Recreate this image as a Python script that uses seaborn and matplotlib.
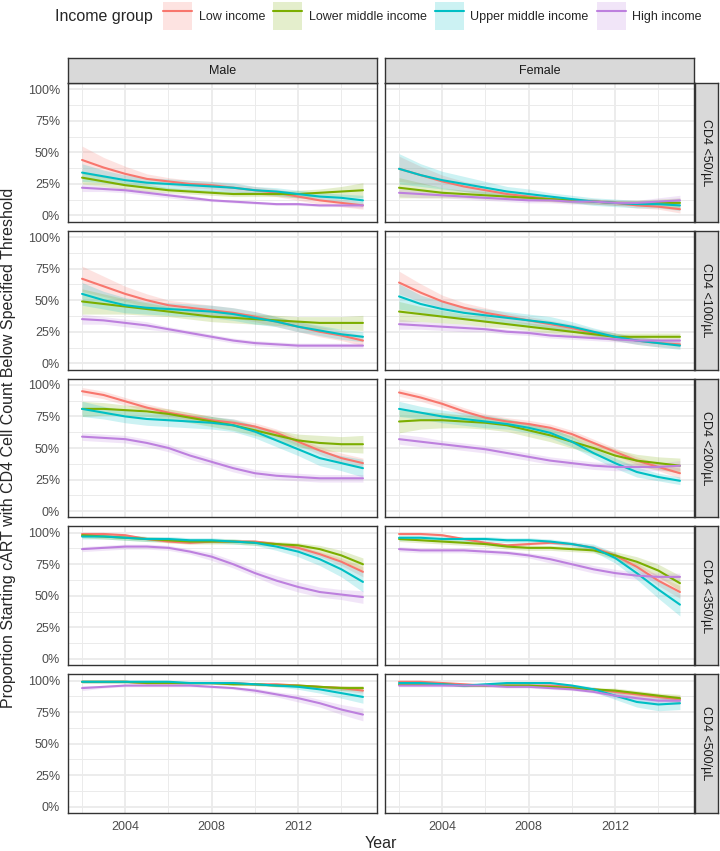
import numpy as np
import pandas as pd
import matplotlib
matplotlib.use("Agg")
import matplotlib.pyplot as plt
import seaborn as sns
from matplotlib.patches import Patch
from matplotlib.lines import Line2D

years = list(range(2002, 2016))
groups = ["Low income", "Lower middle income", "Upper middle income", "High income"]
colors = ["#F8766D", "#7CAE00", "#00BFC4", "#BD80DE"]
sexes = ["Male", "Female"]
thresholds = ["CD4 <50/µL", "CD4 <100/µL", "CD4 <200/µL", "CD4 <350/µL", "CD4 <500/µL"]

# fitted proportion (%) per year
male_50 = {
    "Low income": [44, 38, 33, 29, 27, 25, 24, 22, 20, 18, 15, 12, 10, 8],
    "Lower middle income": [30, 27, 24, 22, 20, 19, 18, 17, 17, 17, 17, 18, 19, 20],
    "Upper middle income": [34, 31, 28, 26, 25, 24, 23, 22, 20, 19, 17, 15, 14, 12],
    "High income": [22, 21, 20, 18, 16, 14, 12, 11, 10, 9, 9, 8, 8, 8],
}
female_50 = {
    "Low income": [37, 32, 27, 23, 20, 17, 15, 13, 12, 11, 10, 8, 7, 5],
    "Lower middle income": [22, 20, 18, 17, 16, 15, 14, 13, 12, 11, 10, 10, 10, 10],
    "Upper middle income": [37, 32, 28, 25, 22, 19, 17, 15, 13, 11, 10, 9, 9, 8],
    "High income": [18, 17, 16, 15, 14, 13, 12, 12, 11, 11, 10, 10, 11, 12],
}
male_100 = {
    "Low income": [67, 61, 55, 50, 46, 44, 42, 40, 37, 33, 29, 25, 22, 18],
    "Lower middle income": [49, 47, 45, 43, 41, 39, 37, 36, 35, 34, 33, 32, 32, 32],
    "Upper middle income": [55, 50, 46, 44, 43, 42, 41, 39, 36, 33, 29, 26, 23, 21],
    "High income": [35, 34, 32, 30, 27, 24, 21, 18, 16, 15, 14, 14, 14, 14],
}
female_100 = {
    "Low income": [64, 56, 49, 44, 40, 37, 34, 31, 28, 24, 21, 18, 16, 15],
    "Lower middle income": [41, 39, 37, 35, 33, 31, 29, 27, 25, 23, 21, 21, 21, 21],
    "Upper middle income": [53, 47, 43, 40, 38, 36, 34, 32, 29, 25, 21, 18, 16, 14],
    "High income": [31, 30, 29, 28, 27, 25, 24, 22, 21, 20, 19, 18, 18, 18],
}
male_200 = {
    "Low income": [95, 92, 87, 82, 78, 75, 72, 70, 67, 62, 55, 48, 42, 38],
    "Lower middle income": [81, 81, 80, 79, 77, 74, 71, 68, 64, 60, 56, 54, 53, 53],
    "Upper middle income": [81, 78, 75, 73, 72, 71, 70, 68, 63, 56, 49, 42, 38, 34],
    "High income": [59, 58, 57, 54, 50, 44, 39, 34, 30, 28, 27, 26, 26, 26],
}
female_200 = {
    "Low income": [94, 90, 85, 79, 74, 71, 69, 66, 61, 54, 47, 40, 35, 30],
    "Lower middle income": [71, 72, 72, 71, 70, 68, 64, 60, 55, 50, 44, 40, 38, 36],
    "Upper middle income": [81, 78, 75, 73, 71, 69, 66, 62, 55, 46, 38, 31, 27, 24],
    "High income": [57, 55, 53, 51, 49, 46, 43, 40, 38, 36, 35, 35, 35, 36],
}
male_350 = {
    "Low income": [99, 99, 98, 95, 93, 92, 93, 93, 93, 91, 88, 83, 77, 69],
    "Lower middle income": [98, 97, 96, 95, 94, 93, 93, 93, 92, 91, 90, 87, 82, 75],
    "Upper middle income": [97, 97, 96, 95, 95, 94, 94, 93, 92, 89, 85, 79, 71, 61],
    "High income": [87, 88, 89, 89, 88, 85, 81, 75, 68, 62, 57, 53, 51, 49],
}
female_350 = {
    "Low income": [99, 99, 98, 95, 92, 90, 91, 92, 91, 88, 82, 73, 62, 53],
    "Lower middle income": [95, 94, 93, 92, 91, 89, 88, 88, 87, 86, 82, 77, 70, 60],
    "Upper middle income": [96, 96, 95, 95, 95, 94, 94, 93, 91, 88, 80, 68, 55, 43],
    "High income": [87, 86, 86, 86, 85, 84, 82, 79, 75, 71, 68, 66, 65, 65],
}
male_500 = {
    "Low income": [99, 99, 99, 98, 98, 98, 98, 98, 97, 97, 96, 95, 94, 92],
    "Lower middle income": [99, 99, 99, 98, 98, 98, 98, 97, 97, 96, 96, 95, 94, 94],
    "Upper middle income": [99, 99, 99, 99, 99, 98, 98, 98, 97, 96, 95, 93, 90, 87],
    "High income": [94, 95, 96, 96, 96, 96, 95, 94, 92, 89, 86, 82, 77, 73],
}
female_500 = {
    "Low income": [99, 99, 98, 97, 96, 96, 96, 96, 95, 93, 91, 89, 87, 85],
    "Lower middle income": [97, 97, 97, 96, 96, 96, 96, 95, 94, 93, 92, 90, 88, 86],
    "Upper middle income": [98, 98, 97, 96, 97, 98, 98, 98, 96, 93, 88, 83, 81, 82],
    "High income": [96, 96, 96, 96, 96, 95, 95, 94, 93, 91, 88, 86, 84, 84],
}

# half width of the confidence band (%) per year
male_50_ci = {
    "Low income": [11, 8, 6, 4, 3, 3, 3, 3, 3, 3, 3, 3, 3, 3],
    "Lower middle income": [5, 4, 3, 3, 2, 2, 2, 2, 2, 2, 3, 3, 4, 6],
    "Upper middle income": [7, 5, 4, 4, 4, 4, 4, 4, 3, 3, 3, 3, 3, 4],
    "High income": [3, 2, 2, 2, 2, 2, 1, 1, 1, 1, 1, 1, 1, 2],
}
female_50_ci = {
    "Low income": [10, 7, 5, 4, 3, 3, 3, 2, 2, 2, 2, 2, 2, 3],
    "Lower middle income": [8, 6, 4, 3, 3, 2, 2, 2, 2, 2, 2, 2, 3, 4],
    "Upper middle income": [12, 9, 7, 6, 5, 4, 4, 3, 3, 3, 3, 3, 3, 4],
    "High income": [3, 3, 2, 2, 2, 2, 2, 2, 2, 2, 2, 2, 3, 4],
}
male_100_ci = {
    "Low income": [10, 8, 6, 5, 4, 4, 4, 4, 4, 4, 4, 4, 4, 4],
    "Lower middle income": [10, 8, 6, 5, 4, 4, 4, 4, 4, 4, 4, 5, 5, 6],
    "Upper middle income": [9, 7, 6, 5, 5, 5, 5, 5, 5, 4, 4, 4, 4, 4],
    "High income": [4, 3, 3, 3, 2, 2, 2, 2, 2, 2, 2, 2, 2, 2],
}
female_100_ci = {
    "Low income": [9, 7, 5, 4, 4, 3, 3, 3, 3, 3, 3, 3, 3, 3],
    "Lower middle income": [8, 6, 5, 4, 4, 3, 3, 3, 3, 3, 3, 3, 3, 3],
    "Upper middle income": [10, 7, 6, 5, 5, 5, 5, 5, 4, 3, 3, 3, 3, 3],
    "High income": [4, 3, 3, 3, 2, 2, 2, 2, 2, 2, 2, 2, 2, 2],
}
male_200_ci = {
    "Low income": [3, 3, 3, 3, 3, 3, 3, 3, 3, 3, 3, 3, 4, 4],
    "Lower middle income": [6, 5, 4, 4, 4, 4, 4, 4, 4, 4, 5, 6, 6, 7],
    "Upper middle income": [6, 5, 5, 5, 5, 5, 5, 5, 5, 5, 5, 6, 6, 7],
    "High income": [3, 3, 3, 3, 3, 3, 3, 3, 3, 3, 3, 3, 3, 3],
}
female_200_ci = {
    "Low income": [3, 3, 3, 3, 3, 3, 3, 3, 3, 3, 3, 3, 3, 4],
    "Lower middle income": [9, 7, 6, 5, 5, 5, 5, 5, 5, 5, 5, 5, 5, 6],
    "Upper middle income": [6, 5, 5, 5, 5, 4, 4, 4, 4, 4, 4, 4, 3, 3],
    "High income": [4, 4, 3, 3, 3, 3, 3, 3, 3, 3, 3, 3, 3, 4],
}
male_350_ci = {
    "Low income": [1, 1, 1, 1, 1, 1, 1, 1, 1, 1, 2, 2, 3, 4],
    "Lower middle income": [2, 2, 2, 2, 2, 2, 2, 2, 2, 2, 2, 3, 4, 5],
    "Upper middle income": [2, 2, 2, 2, 2, 2, 2, 2, 2, 3, 4, 5, 6, 8],
    "High income": [2, 2, 2, 2, 2, 2, 3, 3, 3, 4, 4, 4, 4, 5],
}
female_350_ci = {
    "Low income": [1, 1, 1, 1, 1, 1, 1, 1, 1, 2, 2, 3, 4, 5],
    "Lower middle income": [2, 2, 2, 2, 2, 2, 2, 2, 2, 2, 3, 4, 5, 6],
    "Upper middle income": [2, 2, 2, 2, 2, 2, 2, 2, 2, 3, 4, 5, 7, 9],
    "High income": [2, 2, 2, 2, 2, 2, 2, 3, 3, 3, 3, 3, 3, 3],
}
male_500_ci = {
    "Low income": [1, 1, 1, 1, 1, 1, 1, 1, 1, 1, 1, 1, 2, 2],
    "Lower middle income": [1, 1, 1, 1, 1, 1, 1, 1, 1, 1, 1, 1, 2, 2],
    "Upper middle income": [1, 1, 1, 1, 1, 1, 1, 1, 1, 1, 2, 3, 4, 5],
    "High income": [2, 1, 1, 1, 1, 1, 1, 1, 2, 2, 3, 3, 4, 5],
}
female_500_ci = {
    "Low income": [1, 1, 1, 1, 1, 1, 1, 1, 1, 1, 2, 2, 2, 3],
    "Lower middle income": [1, 1, 1, 1, 1, 1, 1, 1, 1, 1, 2, 2, 2, 3],
    "Upper middle income": [1, 1, 1, 1, 1, 1, 1, 1, 1, 2, 3, 4, 5, 5],
    "High income": [1, 1, 1, 1, 1, 1, 1, 1, 1, 1, 2, 2, 3, 3],
}

panel_values = {
    "Male": [male_50, male_100, male_200, male_350, male_500],
    "Female": [female_50, female_100, female_200, female_350, female_500],
}
panel_ci = {
    "Male": [male_50_ci, male_100_ci, male_200_ci, male_350_ci, male_500_ci],
    "Female": [female_50_ci, female_100_ci, female_200_ci, female_350_ci, female_500_ci],
}

# long table
rows = []
for sex in sexes:
    for ti, thr in enumerate(thresholds):
        for g in groups:
            vals = panel_values[sex][ti][g]
            cis = panel_ci[sex][ti][g]
            for yr, v, c in zip(years, vals, cis):
                rows.append((sex, thr, g, yr, v / 100, c / 100))
df = pd.DataFrame(rows, columns=["sex", "threshold", "group", "Year", "prop", "half"])
df["lo"] = df.prop - df.half
df["hi"] = df.prop + df.half

sns.set_style("white")
plt.rcParams['font.family'] = ['Liberation Sans', 'DejaVu Sans']

W, H = 720, 851
fig = plt.figure(figsize=(W / 100, H / 100), dpi=100)

def fx(px):
    return px / W

def fy(py):
    return 1 - py / H

col_left = {"Male": 68, "Female": 385}
col_w = 309
row_top0, row_h, row_step = 83, 138.8, 147.8
border = "#333333"
strip_fill = "#D9D9D9"
tick_col = "#4D4D4D"

for ci, sex in enumerate(sexes):
    for ri, thr in enumerate(thresholds):
        top = row_top0 + ri * row_step
        ax = fig.add_axes([fx(col_left[sex]), fy(top + row_h), col_w / W, row_h / H])
        sub = df[(df.sex == sex) & (df.threshold == thr)]
        for g, c in zip(groups, colors):
            d = sub[sub.group == g]
            ax.fill_between(d.Year, d.lo, d.hi, color=c, alpha=0.2, lw=0)
            sns.lineplot(data=d, x="Year", y="prop", color=c, lw=1.5,
                         errorbar=None, ax=ax, legend=False)
        ax.set_xlim(2001.35, 2015.65)
        ax.set_ylim(-0.05, 1.05)
        ax.set_xticks([2004, 2008, 2012])
        ax.set_xticks([2002, 2006, 2010, 2014], minor=True)
        ax.set_yticks([0, 0.25, 0.5, 0.75, 1.0])
        ax.set_yticks([0.125, 0.375, 0.625, 0.875], minor=True)
        ax.grid(which="major", color="#EBEBEB", lw=1.3)
        ax.grid(which="minor", color="#EBEBEB", lw=0.7)
        ax.set_axisbelow(True)
        for s in ax.spines.values():
            s.set_color(border)
            s.set_linewidth(1.0)
        ax.set_xlabel("")
        ax.set_ylabel("")
        ax.tick_params(which="minor", length=0)
        ax.tick_params(which="major", length=3.2, width=0.9, color=border,
                       labelsize=9, labelcolor=tick_col, pad=2.5)
        if ci == 0:
            ax.set_yticklabels(["0%", "25%", "50%", "75%", "100%"])
        else:
            ax.tick_params(axis="y", length=0, labelleft=False)
        if ri == len(thresholds) - 1:
            ax.set_xticklabels(["2004", "2008", "2012"])
        else:
            ax.tick_params(axis="x", length=0, labelbottom=False)

        # top strips
        if ri == 0:
            sax = fig.add_axes([fx(col_left[sex]), fy(top), col_w / W, 25 / H])
            sax.set_facecolor(strip_fill)
            sax.set_xticks([])
            sax.set_yticks([])
            for s in sax.spines.values():
                s.set_color(border)
                s.set_linewidth(1.0)
            sax.text(0.5, 0.5, sex, ha="center", va="center", fontsize=9,
                     color="#1A1A1A", transform=sax.transAxes)
        # right strips
        if ci == 1:
            rax = fig.add_axes([fx(695), fy(top + row_h), 23 / W, row_h / H])
            rax.set_facecolor(strip_fill)
            rax.set_xticks([])
            rax.set_yticks([])
            for s in rax.spines.values():
                s.set_color(border)
                s.set_linewidth(1.0)
            rax.text(0.5, 0.5, thr, ha="center", va="center", fontsize=9,
                     rotation=-90, color="#1A1A1A", transform=rax.transAxes)

# axis titles
fig.text(fx(381), fy(843), "Year", ha="center", va="center", fontsize=11.5)
fig.text(fx(9), fy(448), "Proportion Starting cART with CD4 Cell Count Below Specified Threshold",
         ha="center", va="center", rotation=90, fontsize=11.5)

# legend
fig.text(fx(55), fy(16), "Income group", ha="left", va="center", fontsize=11.5)
handles = [(Patch(facecolor=c, alpha=0.2, lw=0), Line2D([], [], color=c, lw=1.5))
           for c in colors]
fig.legend(handles, groups, loc="center left", bbox_to_anchor=(fx(163), fy(16)),
           ncol=4, frameon=False, fontsize=9, handlelength=2.3, handleheight=3.0,
           handletextpad=0.56, columnspacing=0.64, borderpad=0, borderaxespad=0)

fig.savefig("out.png", dpi=100)
